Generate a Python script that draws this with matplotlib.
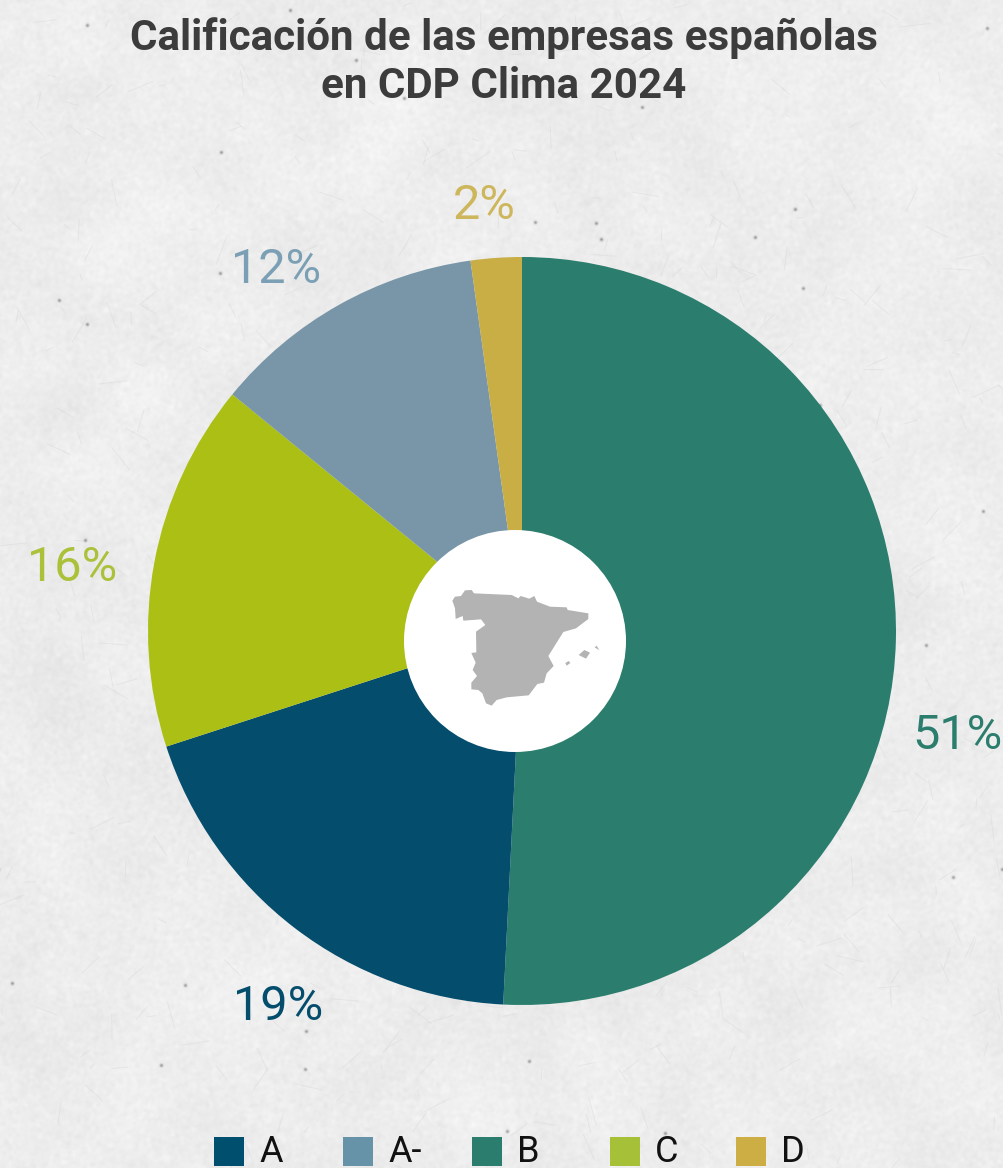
import matplotlib
matplotlib.use("Agg")
import matplotlib.pyplot as plt
import numpy as np
from matplotlib.collections import LineCollection
from matplotlib.patches import Circle, Polygon, Rectangle

plt.rcParams['font.family'] = ['Roboto', 'DejaVu Sans']

W, H = 1004, 1168

titulo = "Calificación de las empresas españolas\nen CDP Clima 2024"
categorias = ["B", "A", "C", "A-", "D"]
valores = [50.8, 19.2, 15.9, 11.9, 2.2]
colores = ["#2b7d6d", "#044d6d", "#abbf14", "#7896a8", "#c9ae46"]
etiquetas = ["51%", "19%", "16%", "12%", "2%"]
colores_etiqueta = ["#2b7d6d", "#044d6d", "#abc13a", "#7ba0b5", "#cdb65c"]
pos_etiqueta = [(957, 736), (278, 1007), (72, 568), (276, 270), (484, 206)]

leyenda = ["A", "A-", "B", "C", "D"]
colores_leyenda = ["#004f6e", "#6693a8", "#2b7d6d", "#a6c137", "#cdae45"]
x_leyenda = [214, 343, 472, 610, 736]

# contorno del mapa, en pixeles del recorte ampliado x3
mapa = [(157, 212), (165, 200), (183, 198), (195, 181), (215, 180), (222, 190), (335, 195),
        (355, 205), (362, 198), (388, 206), (403, 198), (411, 215), (450, 230), (500, 232),
        (503, 240), (565, 250), (565, 267), (528, 295), (490, 306), (445, 378), (461, 408),
        (440, 430), (432, 458), (412, 462), (386, 496), (320, 502), (290, 510), (275, 527),
        (258, 520), (247, 490), (235, 480), (214, 478), (214, 458), (231, 438), (218, 420),
        (227, 398), (214, 369), (229, 367), (228, 305), (256, 285), (243, 268), (190, 272),
        (188, 258), (167, 267), (165, 235)]
isla1 = [(536, 375), (553, 360), (570, 368), (558, 386)]
isla2 = [(584, 352), (590, 347), (598, 361)]
isla3 = [(496, 399), (506, 393), (511, 399), (500, 407)]

fig = plt.figure(figsize=(W / 100, H / 100), dpi=100)

# fondo de papel
rng = np.random.default_rng(7)
ruido = rng.normal(0, 1, (H, W))
fy = np.fft.fftfreq(H)[:, None]
fx = np.fft.fftfreq(W)[None, :]
f2 = fx ** 2 + fy ** 2
suave = np.fft.ifft2(np.fft.fft2(ruido) * np.exp(-f2 * 2 * (np.pi * 1.5) ** 2)).real
ancho = np.fft.ifft2(np.fft.fft2(ruido) * np.exp(-f2 * 2 * (np.pi * 25) ** 2)).real
fondo = 237 + 1.8 * suave / suave.std() + 1.5 * ancho / ancho.std()
motas = np.fft.ifft2(np.fft.fft2((rng.random((H, W)) > 0.99995) * 1.0) * np.exp(-f2 * 2 * (np.pi * 1.2) ** 2)).real
fondo = fondo - 80 * motas / motas.max()
ax_fondo = fig.add_axes([0, 0, 1, 1])
ax_fondo.imshow(fondo, cmap="gray", vmin=0, vmax=255, aspect="auto")
ax_fondo.axis("off")
# fibras del papel
n = 500
x0 = rng.uniform(0, W, n)
y0 = rng.uniform(0, H, n)
ang = rng.uniform(0, np.pi, n)
lar = rng.uniform(6, 30, n)
fibras = [[(a, b), (a + l * np.cos(t), b + l * np.sin(t))] for a, b, t, l in zip(x0, y0, ang, lar)]
ax_fondo.add_collection(LineCollection(fibras, colors="#d8d8d8", linewidths=0.7, alpha=0.45))

# tarta
cx, cy, r = 522, 631, 374
ax = fig.add_axes([(cx - r) / W, 1 - (cy + r) / H, 2 * r / W, 2 * r / H])
ax.pie(valores, colors=colores, startangle=90, counterclock=False, radius=1,
       wedgeprops={"linewidth": 0})
ax.set_xlim(-1, 1)
ax.set_ylim(-1, 1)

# capa en pixeles
capa = fig.add_axes([0, 0, 1, 1])
capa.set_xlim(0, W)
capa.set_ylim(H, 0)
capa.axis("off")
capa.patch.set_alpha(0)

capa.add_patch(Circle((515, 641), 111, fc="white", ec="none"))
for forma in [mapa, isla1, isla2, isla3]:
    puntos = [(400 + x / 3, 530 + y / 3) for x, y in forma]
    capa.add_patch(Polygon(puntos, closed=True, fc="#b3b3b3", ec="none"))

capa.text(504, 62, titulo, ha="center", va="center", fontsize=30.3, fontweight="bold",
          color="#3c3c3c", linespacing=1.22)

for txt, c, (x, y) in zip(etiquetas, colores_etiqueta, pos_etiqueta):
    capa.text(x, y, txt, ha="center", va="center", fontsize=35, color=c)

for nombre, c, x in zip(leyenda, colores_leyenda, x_leyenda):
    capa.add_patch(Rectangle((x, 1137), 30, 29, fc=c, ec="none"))
    capa.text(x + 45, 1152, nombre, ha="left", va="center", fontsize=26, color="#111111")

fig.savefig("out.png", dpi=100)
